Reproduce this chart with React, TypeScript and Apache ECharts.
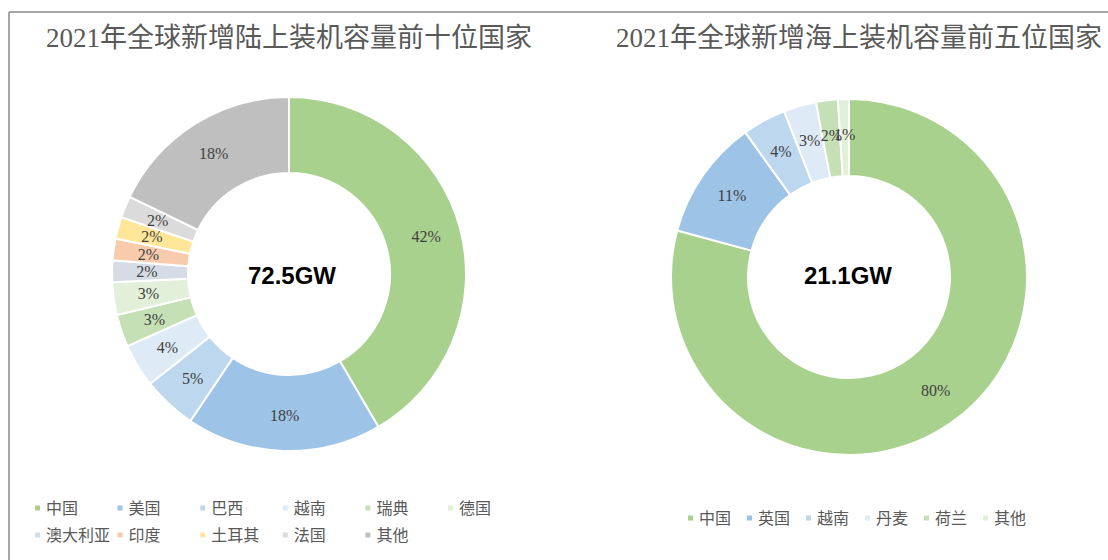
import React, { useEffect, useRef } from "react";
import * as echarts from "echarts";

const onshoreNames = ["中国", "美国", "巴西", "越南", "瑞典", "德国", "澳大利亚", "印度", "土耳其", "法国", "其他"];
const onshoreValues = [42, 18, 5, 4, 3, 3, 2, 2, 2, 2, 18];
const onshoreColors = ["#a9d18e", "#9dc3e6", "#bdd7ee", "#deebf7", "#c5e0b4", "#e2f0d9", "#d6dce5", "#f8cbad", "#ffe699", "#dbdbdb", "#bfbfbf"];
const onshoreTitle = "2021年全球新增陆上装机容量前十位国家";
const onshoreTotal = "72.5GW";

const offshoreNames = ["中国", "英国", "越南", "丹麦", "荷兰", "其他"];
const offshoreValues = [80, 11, 4, 3, 2, 1];
const offshoreColors = ["#a9d18e", "#9dc3e6", "#bdd7ee", "#deebf7", "#c5e0b4", "#e2f0d9"];
const offshoreTitle = "2021年全球新增海上装机容量前五位国家";
const offshoreTotal = "21.1GW";

const serif = "'Liberation Serif', 'Times New Roman', 'Noto Sans CJK SC', serif";

export default function App() {
  const ref = useRef<HTMLDivElement>(null);
  useEffect(() => {
    if (!ref.current) return;
    const chart = echarts.init(ref.current, undefined, { renderer: "svg" });
    const mkData = (names: string[], values: number[], colors: string[]) =>
      names.map((n, i) => ({ name: n, value: values[i], itemStyle: { color: colors[i] } }));
    const labelStyle = {
      show: true,
      position: "inside",
      formatter: (p: any) => p.value + "%",
      fontFamily: serif,
      fontSize: 16,
      color: "#404040",
    };
    const legendText = { fontFamily: serif, fontSize: 16, color: "#595959" };
    const leftLegends = onshoreNames.map((n, i) => ({
      data: [{ name: n, itemStyle: { color: onshoreColors[i] } }],
      left: 33 + (i % 6) * 82.6,
      top: 500 + Math.floor(i / 6) * 27,
      itemWidth: 7,
      itemHeight: 7,
      icon: "rect",
      selectedMode: false,
      padding: 0,
      textStyle: legendText,
    }));
    const rightLegend = {
      data: offshoreNames.map((n, i) => ({ name: n, itemStyle: { color: offshoreColors[i] } })),
      left: 686,
      top: 510,
      itemWidth: 7,
      itemHeight: 7,
      itemGap: 14,
      icon: "rect",
      selectedMode: false,
      padding: 0,
      textStyle: legendText,
    };
    chart.setOption({
      animation: false,
      backgroundColor: "#ffffff",
      title: [
        {
          text: onshoreTitle,
          left: 284,
          top: 19,
          textAlign: "center",
          textStyle: { fontFamily: serif, fontSize: 27, fontWeight: "normal", color: "#595959" },
        },
        {
          text: offshoreTitle,
          left: 854,
          top: 19,
          textAlign: "center",
          textStyle: { fontFamily: serif, fontSize: 27, fontWeight: "normal", color: "#595959" },
        },
      ],
      legend: [...leftLegends, rightLegend],
      graphic: [
        { type: "line", shape: { x1: 9, y1: 12, x2: 1108, y2: 12 }, style: { stroke: "#a6a6a6", lineWidth: 2 } },
        { type: "line", shape: { x1: 9, y1: 12, x2: 9, y2: 560 }, style: { stroke: "#a6a6a6", lineWidth: 2 } },
        {
          type: "text",
          x: 292,
          y: 275,
          style: { text: onshoreTotal, font: "bold 24px 'Liberation Sans', Arial, sans-serif", fill: "#000", align: "center", verticalAlign: "middle" },
        },
        {
          type: "text",
          x: 848,
          y: 275,
          style: { text: offshoreTotal, font: "bold 24px 'Liberation Sans', Arial, sans-serif", fill: "#000", align: "center", verticalAlign: "middle" },
        },
      ],
      series: [
        {
          type: "pie",
          center: [289, 274],
          radius: [101, 177],
          startAngle: 90,
          clockwise: true,
          data: mkData(onshoreNames, onshoreValues, onshoreColors),
          itemStyle: { borderColor: "#ffffff", borderWidth: 2 },
          label: labelStyle,
          labelLine: { show: false },
          labelLayout: { hideOverlap: false },
          emphasis: { disabled: true },
        },
        {
          type: "pie",
          center: [849, 277],
          radius: [101, 178],
          startAngle: 90,
          clockwise: true,
          data: mkData(offshoreNames, offshoreValues, offshoreColors),
          itemStyle: { borderColor: "#ffffff", borderWidth: 2 },
          label: labelStyle,
          labelLine: { show: false },
          labelLayout: { hideOverlap: false },
          emphasis: { disabled: true },
        },
      ],
    });
    return () => chart.dispose();
  }, []);
  return <div ref={ref} style={{ position: "fixed", left: 0, top: 0, width: 1108, height: 560 }} />;
}
